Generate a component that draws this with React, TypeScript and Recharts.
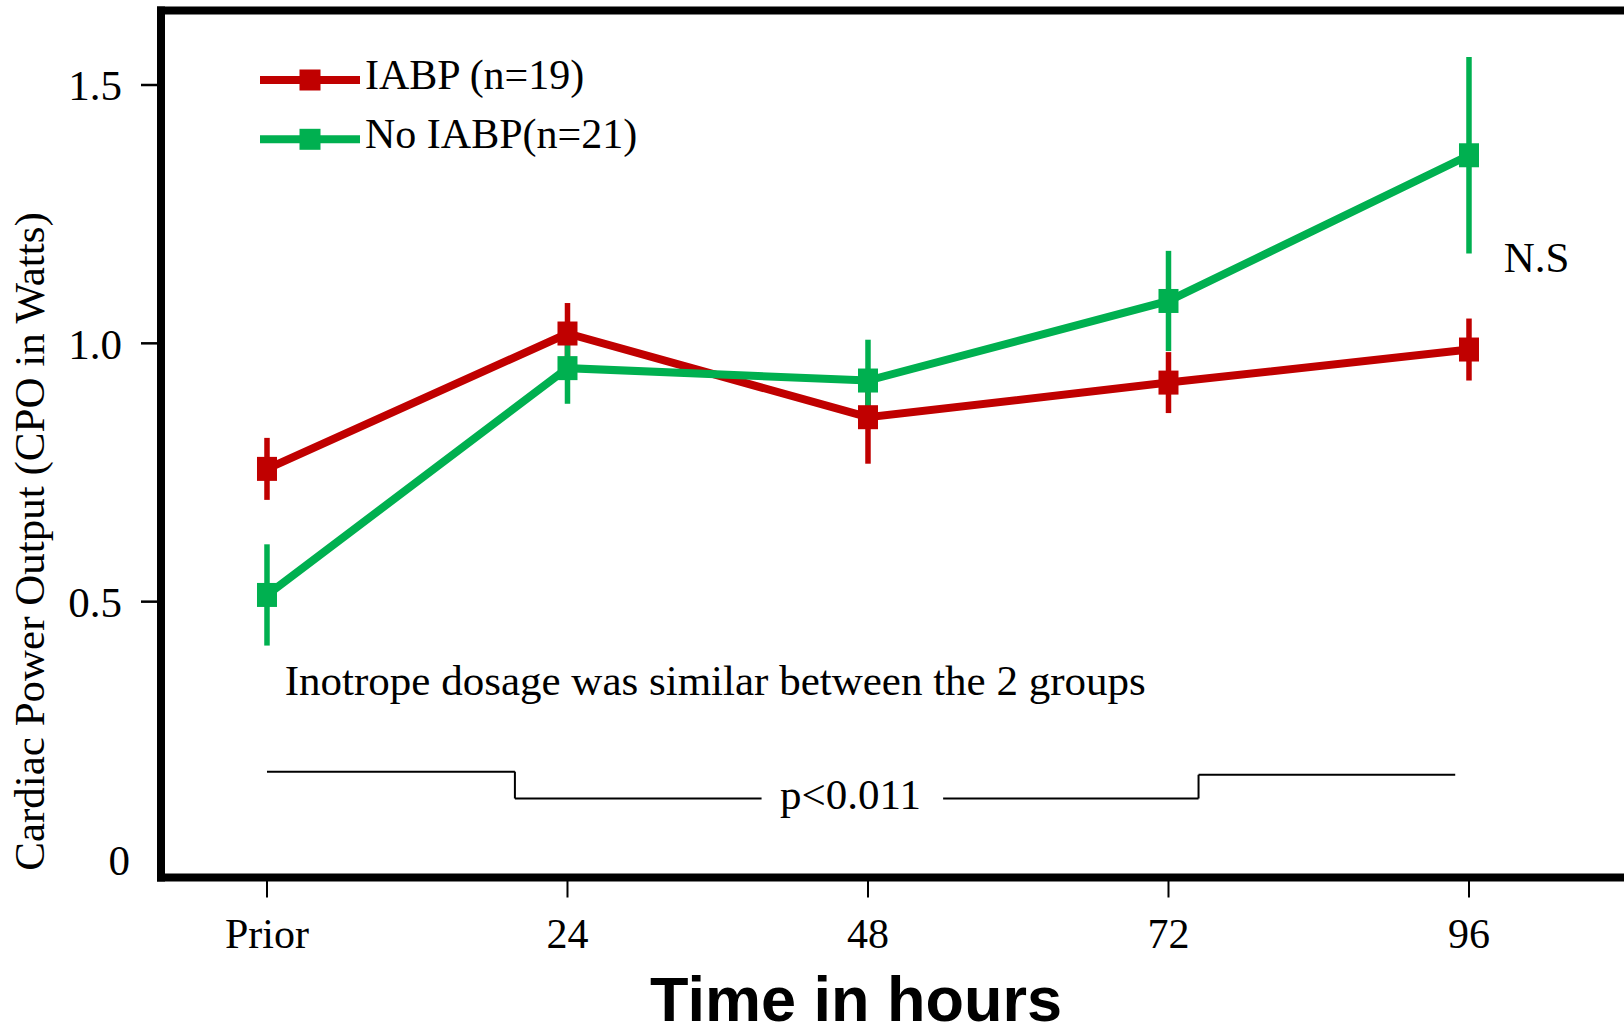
import React from 'react';
import {
  LineChart,
  Line,
  XAxis,
  YAxis,
  ErrorBar,
  ReferenceLine,
  ReferenceDot,
  Legend,
} from 'recharts';

// ---- data ----
const timeHours = [0, 24, 48, 72, 96];
const timeLabels = ['Prior', '24', '48', '72', '96'];
const iabpMean = [0.757, 1.019, 0.857, 0.924, 0.988];
const iabpErr = [0.06, 0.059, 0.09, 0.059, 0.06];
const noIabpMean = [0.513, 0.952, 0.928, 1.082, 1.364];
const noIabpErr = [0.098, 0.069, 0.079, 0.097, 0.19];
const yTicks = [0, 0.5, 1.0, 1.5];
const yTickLabels = ['0', '0.5', '1.0', '1.5'];
const iabpName = 'IABP (n=19)';
const noIabpName = 'No IABP(n=21)';
const xTitle = 'Time in hours';
const yTitle = 'Cardiac Power Output (CPO in Watts)';

// p-value bracket, in (hours, CPO) data units
const bracketLeft = [
  [0, 0.171],
  [19.8, 0.171],
  [19.8, 0.119],
  [39.5, 0.119],
];
const bracketRight = [
  [54.0, 0.119],
  [74.4, 0.119],
  [74.4, 0.165],
  [94.9, 0.165],
];
const notes = [
  { text: 'Inotrope dosage was similar between the 2 groups', t: 1.42, v: 0.349, anchor: 'start' },
  { text: 'p<0.011', t: 46.6, v: 0.128, anchor: 'middle' },
  { text: 'N.S', t: 101.4, v: 1.168, anchor: 'middle' },
];

const chartData = timeHours.map((t, i) => ({
  t,
  iabp: iabpMean[i],
  iabpErr: iabpErr[i],
  noIabp: noIabpMean[i],
  noIabpErr: noIabpErr[i],
}));

// ---- styles ----
const RED = '#C00000';
const GREEN = '#00B050';
const SERIF = "'Liberation Serif', 'Times New Roman', Times, serif";
const SANS = "'Liberation Sans', Arial, Helvetica, sans-serif";
const X_DOMAIN: [number, number] = [-8.465, 108.38];
const Y_DOMAIN: [number, number] = [-0.0339, 1.6442];

const squareDot = (color: string) => (props: any) => {
  const { cx, cy, index } = props;
  if (cx == null || cy == null) return <g key={`e${index}`} />;
  return <rect key={`d${index}`} x={cx - 10} y={cy - 12} width={20} height={24} fill={color} />;
};

const YTick = (props: any) => {
  const { x, y, payload } = props;
  const v = payload.value;
  const idx = yTicks.indexOf(v);
  return (
    <g>
      <text x={v === 0 ? x + 8 : x} y={y} dy="0.355em" textAnchor="end" fontSize={43} fontFamily={SERIF} fill="#000">
        {idx >= 0 ? yTickLabels[idx] : String(v)}
      </text>
      {v !== 0 && <line x1={x + 19} x2={x + 39} y1={y} y2={y} stroke="#000" strokeWidth={2.5} />}
    </g>
  );
};

const XTitle = () => (
  <text x={856} y={1021} textAnchor="middle" fontSize={63} fontWeight="bold" fontFamily={SANS} fill="#000">
    {xTitle}
  </text>
);

const YTitle = () => (
  <text
    x={43.5}
    y={541.5}
    transform="rotate(-90, 43.5, 541.5)"
    textAnchor="middle"
    fontSize={43}
    fontFamily={SERIF}
    fill="#000"
  >
    {yTitle}
  </text>
);

const renderLegend = (props: any) => {
  const payload = props.payload || [];
  return (
    <svg width={420} height={130} style={{ display: 'block' }}>
      {payload.map((e: any, i: number) => {
        const cy = 30 + i * 59.3;
        return (
          <g key={i}>
            <line x1={10} x2={110} y1={cy} y2={cy} stroke={e.color} strokeWidth={8} />
            <rect x={49.5} y={cy - 10.5} width={21} height={21} fill={e.color} />
            <text x={115} y={cy + 9} fontSize={42} fontFamily={SERIF} fill="#000">
              {e.value}
            </text>
          </g>
        );
      })}
    </svg>
  );
};

const noteShape = (note: any) => (props: any) => {
  const { cx, cy } = props;
  if (cx == null || cy == null) return <g />;
  return (
    <text x={cx} y={cy} dy="0.355em" textAnchor={note.anchor} fontSize={43} fontFamily={SERIF} fill="#000">
      {note.text}
    </text>
  );
};

const segmentsOf = (pts: number[][]) =>
  pts.slice(1).map((p, i) => [
    { x: pts[i][0], y: pts[i][1] },
    { x: p[0], y: p[1] },
  ]);

export default function App() {
  const segs = [...segmentsOf(bracketLeft), ...segmentsOf(bracketRight)];
  return (
    <div
      style={{
        position: 'absolute',
        left: 0,
        top: 0,
        width: 1624,
        height: 1027,
        overflow: 'hidden',
        background: '#fff',
      }}
    >
      <LineChart width={1624} height={1027} data={chartData} margin={{ top: 10.5, right: 0, bottom: 0, left: 0 }}>
        <XAxis
          dataKey="t"
          type="number"
          domain={X_DOMAIN}
          allowDataOverflow
          ticks={timeHours}
          interval={0}
          height={149.5}
          tickSize={20}
          tickMargin={21}
          tickFormatter={(v: number) => timeLabels[timeHours.indexOf(v)] ?? String(v)}
          tick={{ fill: '#000', fontSize: 42, fontFamily: SERIF }}
          tickLine={{ stroke: '#000', strokeWidth: 2 }}
          axisLine={{ stroke: '#000', strokeWidth: 8, strokeLinecap: 'square' }}
          label={{ value: xTitle, content: XTitle }}
        />
        <YAxis
          type="number"
          domain={Y_DOMAIN}
          allowDataOverflow
          ticks={yTicks}
          interval={0}
          width={161}
          tickSize={20}
          tickMargin={19}
          tick={YTick}
          tickLine={false}
          axisLine={{ stroke: '#000', strokeWidth: 8, strokeLinecap: 'square' }}
          label={{ value: yTitle, content: YTitle }}
        />
        <ReferenceLine
          y={Y_DOMAIN[1]}
          stroke="#000"
          strokeWidth={8}
          strokeLinecap="square"
          ifOverflow="visible"
        />
        <Legend
          layout="vertical"
          align="center"
          verticalAlign="middle"
          wrapperStyle={{ left: 250, top: 50, width: 420, height: 130 }}
          content={renderLegend}
        />
        {segs.map((s, i) => (
          <ReferenceLine key={`b${i}`} segment={s} stroke="#000" strokeWidth={2} ifOverflow="visible" />
        ))}
        {notes.map((n, i) => (
          <ReferenceDot key={`n${i}`} x={n.t} y={n.v} r={0} ifOverflow="visible" shape={noteShape(n)} />
        ))}
        <Line
          name={iabpName}
          dataKey="iabp"
          type="linear"
          stroke={RED}
          strokeWidth={8}
          dot={squareDot(RED)}
          activeDot={false}
          isAnimationActive={false}
        >
          <ErrorBar dataKey="iabpErr" direction="y" width={0} stroke={RED} strokeWidth={5.5} isAnimationActive={false} />
        </Line>
        <Line
          name={noIabpName}
          dataKey="noIabp"
          type="linear"
          stroke={GREEN}
          strokeWidth={8}
          dot={squareDot(GREEN)}
          activeDot={false}
          isAnimationActive={false}
        >
          <ErrorBar dataKey="noIabpErr" direction="y" width={0} stroke={GREEN} strokeWidth={5.5} isAnimationActive={false} />
        </Line>
      </LineChart>
    </div>
  );
}
